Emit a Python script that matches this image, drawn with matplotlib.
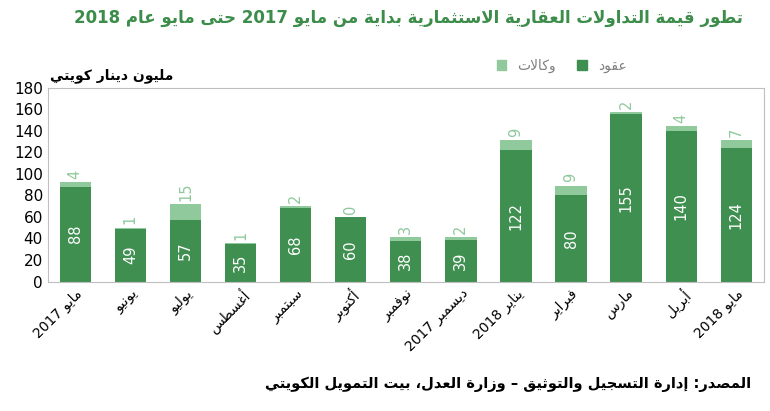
import matplotlib
matplotlib.use("Agg")
import matplotlib.pyplot as plt
import matplotlib.patches as mpatches

# --- minimal Arabic shaping (presentation forms + visual order) ---
_tab = [("ء",0xFE80,1),("آ",0xFE81,2),("أ",0xFE83,2),("ؤ",0xFE85,2),("إ",0xFE87,2),
        ("ئ",0xFE89,4),("ا",0xFE8D,2),("ب",0xFE8F,4),("ة",0xFE93,2),("ت",0xFE95,4),
        ("ث",0xFE99,4),("ج",0xFE9D,4),("ح",0xFEA1,4),("خ",0xFEA5,4),("د",0xFEA9,2),
        ("ذ",0xFEAB,2),("ر",0xFEAD,2),("ز",0xFEAF,2),("س",0xFEB1,4),("ش",0xFEB5,4),
        ("ص",0xFEB9,4),("ض",0xFEBD,4),("ط",0xFEC1,4),("ظ",0xFEC5,4),("ع",0xFEC9,4),
        ("غ",0xFECD,4),("ف",0xFED1,4),("ق",0xFED5,4),("ك",0xFED9,4),("ل",0xFEDD,4),
        ("م",0xFEE1,4),("ن",0xFEE5,4),("ه",0xFEE9,4),("و",0xFEED,2),("ى",0xFEEF,2),
        ("ي",0xFEF1,4)]
FORMS = {c: (s, n) for c, s, n in _tab}
LAMALEF = {"ا": 0xFEFB, "أ": 0xFEF7, "إ": 0xFEF9, "آ": 0xFEF5}

def _shape_run(t):
    out = []
    i = 0
    chars = list(t)
    def dual(c): return c in FORMS and FORMS[c][1] == 4
    while i < len(chars):
        c = chars[i]
        prev = chars[i-1] if i > 0 else ""
        pc = dual(prev)
        if c == "ل" and i + 1 < len(chars) and chars[i+1] in LAMALEF:
            base = LAMALEF[chars[i+1]]
            out.append(chr(base + (1 if pc else 0)))
            i += 2
            continue
        if c not in FORMS:
            out.append(c); i += 1; continue
        s, n = FORMS[c]
        nxt = chars[i+1] if i + 1 < len(chars) else ""
        nc = n == 4 and nxt in FORMS
        if n == 1:
            f = 0
        elif n == 2:
            f = 1 if pc else 0
        else:
            f = 3 if (pc and nc) else 1 if pc else 2 if nc else 0
        out.append(chr(s + f)); i += 1
    return "".join(out)

def ar(text):
    lines = []
    for line in text.split("\n"):
        runs, cur, cur_ltr = [], "", None
        for ch in line:
            ltr = ch.isascii() and ch.isalnum()
            if cur_ltr is None or ltr == cur_ltr:
                cur += ch
            else:
                runs.append((cur, cur_ltr)); cur = ch
            cur_ltr = ltr
        if cur: runs.append((cur, cur_ltr))
        vis = []
        for r, ltr in reversed(runs):
            vis.append(r if ltr else _shape_run(r)[::-1])
        lines.append("".join(vis))
    return "\n".join(lines)

# --- data ---
months = ["مايو 2017", "يونيو", "يوليو", "أغسطس", "سبتمبر", "أكتوبر", "نوفمبر",
          "ديسمبر 2017", "يناير 2018", "فبراير", "مارس", "أبريل", "مايو 2018"]
contracts = [88, 49, 57, 35, 68, 60, 38, 39, 122, 80, 155, 140, 124]
agencies = [4, 1, 15, 1, 2, 0, 3, 2, 9, 9, 2, 4, 7]

dark = "#3f8f50"
light = "#8fc99c"
plt.rcParams['font.family'] = ['DejaVu Sans']

fig = plt.figure(figsize=(7.7, 4.11), dpi=100)
ax = fig.add_axes([0.062, 0.315, 0.93, 0.472])
x = list(range(len(months)))
ax.bar(x, contracts, width=0.57, color=dark)
ax.bar(x, agencies, width=0.57, bottom=contracts, color=light)
for xi, c, a in zip(x, contracts, agencies):
    ax.text(xi, c / 2, str(c), rotation=90, color="white", ha="center", va="center", fontsize=10.5)
    ax.text(xi, c + a + 3, str(a), rotation=90, color=light, ha="center", va="bottom", fontsize=10.5)
ax.set_ylim(0, 180)
ax.set_yticks(range(0, 181, 20))
ax.set_xlim(-0.5, len(months) - 0.5)
ax.set_xticks(x)
ax.set_xticklabels([ar(m) for m in months], rotation=45, ha="right", rotation_mode="anchor",
                   fontsize=10)
ax.tick_params(axis="y", labelsize=11, length=0)
ax.tick_params(axis="x", length=0)
for s in ax.spines.values():
    s.set_color("#bfbfbf")

fig.text(0.53, 0.955, ar("تطور قيمة التداولات العقارية الاستثمارية بداية من مايو 2017 حتى مايو عام 2018"),
         ha="center", va="center", fontsize=12, fontweight="bold", color="#3c8c4a")
fig.text(0.065, 0.815, ar("مليون دينار كويتي"), ha="left", va="center", fontsize=10, fontweight="bold")
h = [mpatches.Patch(color=light, label=ar("وكالات")), mpatches.Patch(color=dark, label=ar("عقود"))]
fig.legend(handles=h, loc="center right", bbox_to_anchor=(0.83, 0.84), ncol=2, frameon=False,
           fontsize=10, handlelength=0.7, handleheight=0.7, columnspacing=1.5, labelcolor="#808080")
fig.text(0.975, 0.065, ar("المصدر: إدارة التسجيل والتوثيق – وزارة العدل، بيت التمويل الكويتي"),
         ha="right", va="center", fontsize=10.5, fontweight="bold")
fig.savefig("out.png", dpi=100)
